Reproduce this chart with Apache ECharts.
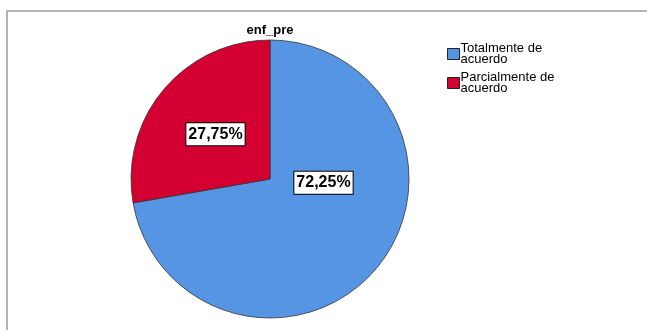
<!DOCTYPE html>
<html>
<head>
<meta charset="utf-8">
<script src="https://cdn.jsdelivr.net/npm/echarts@6/dist/echarts.min.js"></script>
<style>html,body{margin:0;padding:0;background:#fff;}#c{width:647px;height:330px;}</style>
</head>
<body>
<div id="c"></div>
<script>
const chartTitle = 'enf_pre';
const categories = ['Totalmente de acuerdo', 'Parcialmente de acuerdo'];
const values = [72.25, 27.75];
const colors = ['#5595E4', '#D50032'];

const chart = echarts.init(document.getElementById('c'), null, {renderer: 'canvas'});
const font = '"Liberation Sans", Arial, sans-serif';
chart.setOption({
  animation: false,
  backgroundColor: '#fff',
  title: {
    text: chartTitle,
    left: 265, textAlign: 'center', top: 19,
    textStyle: {fontFamily: font, fontSize: 13, fontWeight: 'bold', color: '#000'}
  },
  graphic: [{
    type: 'rect', shape: {x: 7, y: 11, width: 700, height: 400},
    style: {fill: 'none', stroke: '#b4b4b4', lineWidth: 2}, silent: true
  }],
  legend: {
    orient: 'vertical', left: 442, top: 37,
    itemWidth: 12, itemHeight: 11, itemGap: 5,
    icon: 'rect',
    itemStyle: {borderColor: '#222', borderWidth: 1},
    formatter: n => n.replace(' de ', ' de\n'),
    textStyle: {fontFamily: font, fontSize: 13, lineHeight: 11, color: '#000', padding: [0,0,0,-4]},
    data: categories
  },
  series: [{
    type: 'pie',
    center: [270, 179],
    radius: 139,
    startAngle: 90,
    clockwise: true,
    color: colors,
    itemStyle: {borderColor: '#333', borderWidth: 0.8},
    label: {
      position: 'inside',
      formatter: p => p.value.toFixed(2).replace('.', ',') + '%',
      fontFamily: font, fontSize: 16, fontWeight: 'bold', color: '#000',
      backgroundColor: '#fff', borderColor: '#000', borderWidth: 1,
      padding: [4, 2, 2, 2]
    },
    labelLayout: function (p) { return p.dataIndex === 0 ? {dx: -2, dy: -43} : {dx: 1, dy: 2}; },
    emphasis: {disabled: true},
    data: categories.map((c, i) => ({name: c, value: values[i]}))
  }]
});
</script>
</body>
</html>
